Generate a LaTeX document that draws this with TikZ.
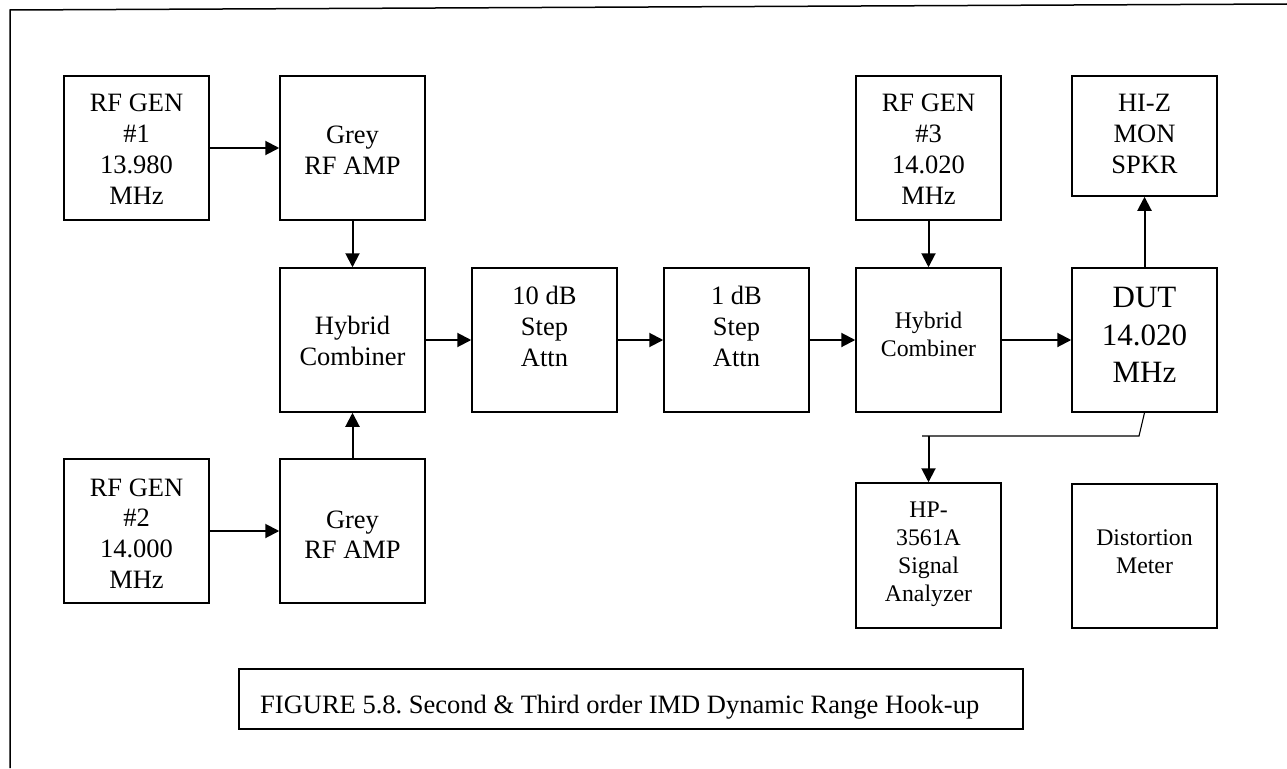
\documentclass[tikz,border=0pt]{standalone}
\usepackage{fontspec}
\setmainfont{Liberation Serif}
\usetikzlibrary{arrows.meta,calc}
\frenchspacing
\tikzset{
  box/.style={draw, line width=1.5pt, inner sep=0pt, minimum width=145pt, minimum height=144pt},
  txt/.style={anchor=north, inner sep=0pt, align=center, font=\fontsize{26.5}{30.8}\selectfont},
  txts/.style={anchor=north, inner sep=0pt, align=center, font=\fontsize{23.8}{28}\selectfont},
  txtb/.style={anchor=north, inner sep=0pt, align=center, font=\fontsize{31}{37.5}\selectfont},
  arr/.style={line width=2pt, -{Triangle[length=14pt,width=14pt]}},
  wire/.style={line width=1.1pt},
  frame/.style={line width=1.5pt}
}
\begin{document}
\begin{tikzpicture}[x=1pt,y=-1pt]
\useasboundingbox (0,0) rectangle (1287,768);
% frame (top and left edges)
\coordinate (fTR) at (1287,4);
\coordinate (fTL) at (10,10);
\coordinate (fBL) at (10,768);
\draw[frame] (fTR) -- (fTL) -- (fBL);

% boxes
\node[box] (g1) at (136.5,148) {};
\node[box] (a1) at (352.5,148) {};
\node[box] (h1) at (352.5,340) {};
\node[box] (a2) at (352.5,531) {};
\node[box] (g2) at (136.5,531) {};
\node[box] (s10) at (544.5,340) {};
\node[box] (s1) at (736.5,340) {};
\node[box] (h2) at (928.5,340) {};
\node[box] (g3) at (928.5,148) {};
\node[box, minimum height=120pt] (spk) at (1144.5,136) {};
\node[box] (dut) at (1144.5,340) {};
\node[box, minimum height=145pt] (hp) at (928.5,555.5) {};
\node[box] (dm) at (1144.5,556) {};
\node[box, minimum width=784pt, minimum height=60pt] (cap) at (631,699) {};

% texts
\node[txt] (tg1) at ($(g1.north)+(0,19)$) {RF GEN\\\#1\\13.980\\MHz};
\node[txt] (ta1) at ($(a1.north)+(0,51)$) {Grey\\RF AMP};
\node[txt] (th1) at ($(h1.north)+(0,49)$) {Hybrid\\Combiner};
\node[txt] (ta2) at ($(a2.north)+(0,52)$) {Grey\\RF AMP};
\node[txt] (tg2) at ($(g2.north)+(0,20)$) {RF GEN\\\#2\\14.000\\MHz};
\node[txt] (ts10) at ($(s10.north)+(0,19)$) {10 dB\\Step\\Attn};
\node[txt] (ts1) at ($(s1.north)+(0,19)$) {1 dB\\Step\\Attn};
\node[txts] (th2) at ($(h2.north)+(0,45)$) {Hybrid\\Combiner};
\node[txt] (tg3) at ($(g3.north)+(0,19)$) {RF GEN\\\#3\\14.020\\MHz};
\node[txt] (tspk) at ($(spk.north)+(0,19)$) {HI-Z\\MON\\SPKR};
\node[txtb] (tdut) at ($(dut.north)+(0,20)$) {DUT\\14.020\\MHz};
\node[txts] (thp) at ($(hp.north)+(0,19)$) {HP-\\3561A\\Signal\\Analyzer};
\node[txts] (tdm) at ($(dm.north)+(0,46)$) {Distortion\\Meter};
\node[anchor=base west, inner sep=0pt, font=\fontsize{26.5}{30}\selectfont] (tcap) at (260,713) {FIGURE 5.8. Second \& Third order IMD Dynamic Range Hook-up};

% connectors
\draw[arr] (g1.east) -- (a1.west);
\draw[arr] (g2.east) -- (a2.west);
\draw[arr] (a1.south) -- (h1.north);
\draw[arr] (a2.north) -- (h1.south);
\draw[arr] (h1.east) -- (s10.west);
\draw[arr] (s10.east) -- (s1.west);
\draw[arr] (s1.east) -- (h2.west);
\draw[arr] (g3.south) -- (h2.north);
\draw[arr] (h2.east) -- (dut.west);
\draw[arr] (dut.north) -- (spk.south);
\coordinate (k1) at (1139,436);
\coordinate (k2) at (922,436);
\coordinate (k3) at (928.5,436);
\draw[wire] (dut.south) -- (k1) -- (k2);
\draw[arr] (k3) -- (hp.north);
\end{tikzpicture}
\end{document}
